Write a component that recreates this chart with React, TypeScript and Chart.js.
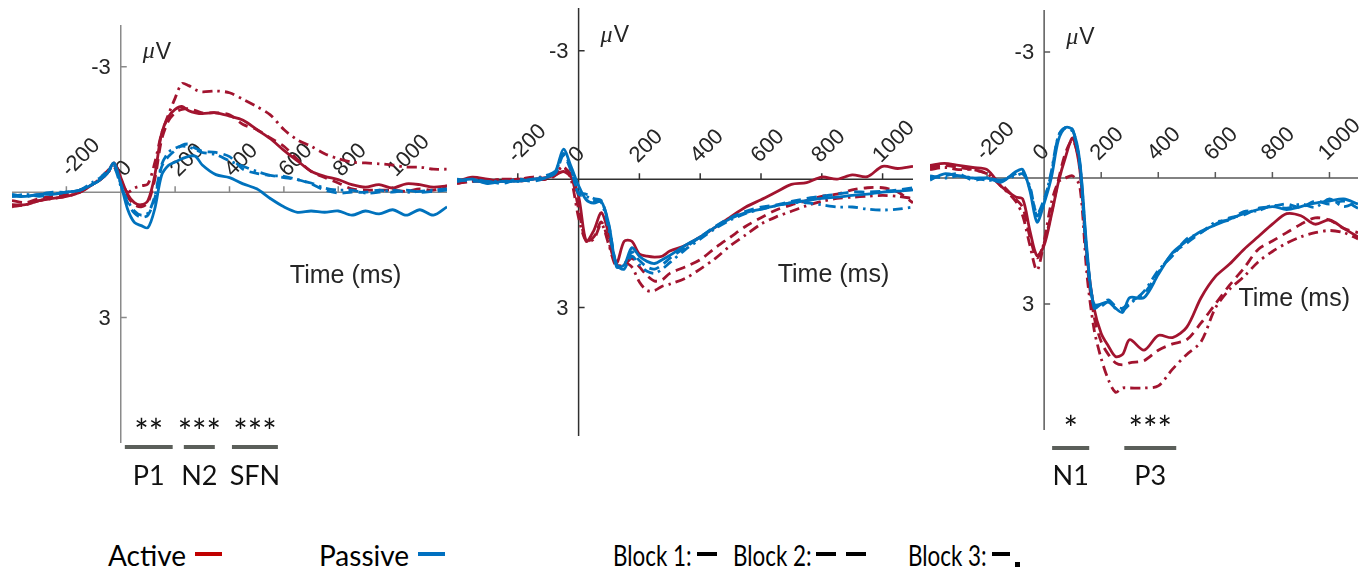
import React, { useEffect, useRef } from 'react';
import { Chart, registerables } from 'chart.js';

Chart.register(...registerables);

// ---------- data ----------
const RED = '#A2142F';
const BLUE = '#0072BD';
const TEXT = '#262626';

const xTickValues = [-200, 0, 200, 400, 600, 800, 1000];
const yTickValues = [-3, 3];

const p1Times = [-400, -350, -300, -250, -200, -150, -100, -75, -50, -25, 0, 25, 50, 75, 100, 125, 150, 175, 200, 225, 250, 275, 300, 350, 400, 450, 500, 550, 600, 650, 700, 750, 800, 850, 900, 950, 1000, 1050, 1100, 1150, 1200];
const p1ActiveB1 = [0.3, 0.3, 0.2, 0.15, 0.1, 0.0, -0.2, -0.3, -0.45, -0.7, -0.35, 0.05, 0.25, 0.3, 0.2, -0.4, -1.4, -1.8, -1.98, -2.05, -1.95, -1.9, -1.88, -1.9, -1.82, -1.72, -1.5, -1.28, -1.0, -0.75, -0.5, -0.38, -0.3, -0.18, -0.12, -0.18, -0.1, -0.2, -0.18, -0.12, -0.15];
const p1ActiveB2 = [0.2, 0.25, 0.15, 0.1, 0.05, -0.05, -0.2, -0.35, -0.5, -0.65, -0.3, 0.1, 0.3, 0.35, 0.25, -0.3, -1.25, -1.7, -1.9, -1.98, -2.0, -1.95, -1.9, -1.9, -1.85, -1.62, -1.5, -1.3, -1.1, -0.78, -0.5, -0.35, -0.22, -0.08, -0.05, -0.05, -0.05, -0.02, -0.08, -0.05, -0.15];
const p1ActiveB3 = [0.35, 0.3, 0.2, 0.15, 0.1, 0.0, -0.2, -0.3, -0.45, -0.6, -0.3, 0.0, -0.1, -0.15, -0.2, -0.7, -1.4, -1.85, -2.25, -2.6, -2.55, -2.45, -2.4, -2.42, -2.38, -2.22, -2.05, -1.85, -1.5, -1.25, -1.1, -0.92, -0.8, -0.72, -0.7, -0.68, -0.65, -0.6, -0.6, -0.55, -0.55];
const p1PassiveB1 = [0.1, 0.1, 0.05, 0.05, 0.0, -0.05, -0.2, -0.3, -0.45, -0.7, -0.2, 0.4, 0.72, 0.8, 0.85, 0.4, -0.4, -0.64, -0.72, -0.8, -0.86, -0.86, -0.65, -0.42, -0.35, -0.2, -0.08, 0.15, 0.35, 0.48, 0.45, 0.48, 0.45, 0.55, 0.45, 0.52, 0.42, 0.55, 0.42, 0.55, 0.35];
const p1PassiveB2 = [0.05, 0.1, 0.05, 0.0, 0.0, -0.05, -0.2, -0.3, -0.45, -0.65, -0.2, 0.25, 0.5, 0.6, 0.55, 0.15, -0.6, -0.85, -1.0, -1.12, -1.15, -1.05, -0.98, -0.95, -0.85, -0.55, -0.45, -0.4, -0.35, -0.3, -0.2, -0.05, 0.02, 0.0, 0.0, -0.05, 0.0, -0.05, 0.0, -0.02, -0.05];
const p1PassiveB3 = [0.1, 0.05, 0.1, 0.05, 0.0, -0.05, -0.25, -0.35, -0.5, -0.6, -0.15, 0.2, 0.45, 0.55, 0.5, 0.1, -0.65, -0.95, -1.05, -1.1, -1.08, -1.02, -0.95, -0.9, -0.75, -0.62, -0.5, -0.4, -0.38, -0.3, -0.22, -0.1, -0.05, -0.05, 0.02, 0.0, -0.05, 0.0, -0.02, -0.05, -0.08];

const p2Times = [-400, -350, -300, -250, -200, -150, -100, -75, -50, -25, 0, 25, 50, 75, 100, 125, 150, 175, 200, 225, 250, 275, 300, 350, 400, 450, 500, 550, 600, 650, 700, 750, 800, 850, 900, 950, 1000, 1050, 1100];
const p2ActiveB1 = [0.05, -0.05, 0.0, 0.05, 0.0, 0.0, -0.05, -0.1, -0.18, -0.05, 0.4, 1.45, 1.2, 0.78, 1.3, 1.95, 1.45, 1.45, 1.75, 1.8, 1.82, 1.8, 1.68, 1.55, 1.35, 1.12, 0.88, 0.65, 0.48, 0.3, 0.12, 0.08, -0.05, 0.0, -0.1, -0.06, -0.3, -0.25, -0.3];
const p2ActiveB2 = [0.1, 0.05, 0.05, 0.0, 0.05, 0.0, 0.0, -0.1, -0.25, -0.1, 0.7, 1.45, 1.35, 1.0, 1.5, 2.0, 2.0, 1.85, 2.05, 2.25, 2.38, 2.35, 2.2, 2.05, 1.88, 1.6, 1.35, 1.1, 0.9, 0.72, 0.6, 0.5, 0.4, 0.35, 0.25, 0.2, 0.2, 0.3, 0.55];
const p2ActiveB3 = [0.1, 0.05, 0.05, 0.0, 0.0, -0.05, -0.05, -0.15, -0.3, 0.0, 0.9, 1.45, 1.4, 1.05, 1.55, 2.05, 1.95, 2.05, 2.4, 2.6, 2.6, 2.5, 2.45, 2.32, 2.1, 1.85, 1.55, 1.3, 1.05, 0.88, 0.75, 0.62, 0.52, 0.45, 0.42, 0.4, 0.38, 0.4, 0.45];
const p2PassiveB1 = [0.05, 0.0, 0.1, 0.05, 0.05, 0.0, -0.05, -0.2, -0.7, -0.3, 0.15, 0.48, 0.56, 0.52, 1.07, 2.05, 2.0, 1.6, 1.8, 1.92, 1.97, 1.88, 1.78, 1.55, 1.35, 1.12, 0.92, 0.78, 0.7, 0.62, 0.55, 0.5, 0.45, 0.42, 0.38, 0.35, 0.3, 0.28, 0.25];
const p2PassiveB2 = [0.0, 0.05, 0.05, 0.1, 0.0, 0.05, -0.05, -0.15, -0.55, -0.2, 0.3, 0.35, 0.45, 0.5, 1.1, 2.0, 2.1, 1.7, 1.9, 2.05, 2.1, 2.0, 1.85, 1.6, 1.35, 1.1, 0.9, 0.75, 0.65, 0.6, 0.52, 0.45, 0.4, 0.35, 0.3, 0.3, 0.28, 0.25, 0.2];
const p2PassiveB3 = [0.05, 0.0, 0.05, 0.05, 0.05, 0.0, -0.1, -0.2, -0.6, -0.25, 0.35, 0.4, 0.5, 0.55, 1.2, 2.0, 2.05, 1.8, 2.0, 2.15, 2.2, 2.1, 1.95, 1.65, 1.4, 1.15, 0.95, 0.8, 0.7, 0.62, 0.55, 0.55, 0.6, 0.65, 0.65, 0.7, 0.72, 0.7, 0.65];

const p3Times = [-400, -350, -300, -250, -200, -150, -100, -75, -50, -25, 0, 25, 50, 75, 100, 125, 150, 175, 200, 225, 250, 275, 300, 350, 400, 450, 500, 550, 600, 650, 700, 750, 800, 850, 900, 950, 1000, 1050, 1100];
const p3ActiveB1 = [-0.3, -0.35, -0.3, -0.25, -0.2, 0.2, 0.45, 0.5, 1.25, 1.85, 1.6, 0.9, 0.1, -0.5, -0.95, -0.2, 1.85, 3.1, 3.7, 4.0, 4.25, 4.2, 3.85, 4.1, 3.75, 3.8, 3.55, 2.85, 2.35, 2.05, 1.7, 1.4, 1.1, 0.85, 0.9, 1.1, 1.0, 1.2, 1.4];
const p3ActiveB2 = [-0.25, -0.3, -0.25, -0.2, -0.1, 0.15, 0.5, 0.7, 1.4, 1.9, 1.55, 0.85, 0.05, -0.6, -0.9, -0.3, 2.0, 3.3, 3.9, 4.2, 4.4, 4.45, 4.4, 4.35, 4.1, 3.95, 3.85, 3.45, 3.0, 2.55, 2.15, 1.7, 1.5, 1.3, 1.1, 0.95, 1.0, 1.2, 1.3];
const p3ActiveB3 = [-0.2, -0.25, -0.2, -0.2, -0.1, 0.2, 0.55, 0.9, 1.6, 2.2, 1.5, 0.6, 0.1, 0.0, -0.05, 0.2, 2.3, 3.6, 4.3, 4.8, 5.1, 5.0, 5.0, 5.0, 4.95, 4.55, 4.2, 3.9, 3.1, 2.65, 2.35, 2.0, 1.75, 1.55, 1.4, 1.3, 1.25, 1.3, 1.45];
const p3PassiveB1 = [0.05, -0.1, -0.05, 0.0, 0.0, 0.1, -0.15, -0.2, 0.3, 1.05, 0.6, 0.0, -0.9, -1.2, -1.15, -0.4, 1.7, 3.1, 3.0, 2.95, 3.1, 3.2, 2.85, 2.85, 2.3, 1.78, 1.5, 1.27, 1.12, 0.98, 0.85, 0.75, 0.68, 0.75, 0.68, 0.6, 0.55, 0.5, 0.62];
const p3PassiveB2 = [0.0, -0.05, -0.1, 0.05, 0.0, 0.05, -0.1, -0.15, 0.25, 0.85, 0.5, -0.1, -1.0, -1.2, -1.15, -0.3, 1.9, 3.0, 3.0, 2.9, 3.05, 3.1, 2.95, 2.75, 2.25, 1.8, 1.55, 1.3, 1.1, 0.95, 0.88, 0.72, 0.68, 0.62, 0.7, 0.55, 0.62, 0.55, 0.72];
const p3PassiveB3 = [-0.05, 0.0, -0.05, 0.0, 0.05, 0.05, -0.05, -0.1, 0.2, 0.9, 0.55, -0.15, -1.0, -1.2, -1.1, -0.35, 1.8, 3.05, 3.05, 2.95, 3.1, 3.15, 3.0, 2.7, 2.2, 1.85, 1.45, 1.3, 1.05, 1.0, 0.8, 0.78, 0.65, 0.72, 0.62, 0.7, 0.5, 0.68, 0.55];

// significance windows (ms)
const p1Windows = [
  { name: 'P1', stars: '**', from: 15, to: 191 },
  { name: 'N2', stars: '***', from: 232, to: 346 },
  { name: 'SFN', stars: '***', from: 409, to: 578 },
];
const p3Windows = [
  { name: 'N1', stars: '*', from: 28, to: 158 },
  { name: 'P3', stars: '***', from: 281, to: 463 },
];

// ---------- styles ----------
const DASH_SOLID: number[] = [];
const DASH_DASHED = [10, 6];
const DASH_DOTDASH = [10, 5, 2.5, 5];

type Series = { values: number[]; color: string; dash: number[] };
type Win = { name: string; stars: string; from: number; to: number };
type PanelCfg = {
  times: number[];
  series: Series[];
  xMin: number;
  xMax: number;
  box: { left: number; top: number; width: number; height: number };
  pad: { left: number; right: number; top: number; bottom: number };
  axisColor: string;
  labelOffset: [number, number];
  timeLabel: { t: number; v: number };
  windows: Win[];
  starY: number;
  barY: number;
  nameY: number;
};

function mkSeries(a: number[][]): Series[] {
  // passive first so blue is drawn on top
  return [
    { values: a[3], color: BLUE, dash: DASH_SOLID },
    { values: a[4], color: BLUE, dash: DASH_DASHED },
    { values: a[5], color: BLUE, dash: DASH_DOTDASH },
    { values: a[0], color: RED, dash: DASH_SOLID },
    { values: a[1], color: RED, dash: DASH_DASHED },
    { values: a[2], color: RED, dash: DASH_DOTDASH },
  ];
}

const panels: PanelCfg[] = [
  {
    times: p1Times,
    series: mkSeries([p1ActiveB1, p1ActiveB2, p1ActiveB3, p1PassiveB1, p1PassiveB2, p1PassiveB3]),
    xMin: -400, xMax: 1200,
    box: { left: 0, top: 0, width: 456, height: 500 },
    pad: { left: 12, right: 9, top: 25, bottom: 57 },
    axisColor: '#8a8a8a',
    labelOffset: [-1, -19],
    timeLabel: { t: 622, v: 2.18 },
    windows: p1Windows,
    starY: 423, barY: 447, nameY: 475,
  },
  {
    times: p2Times,
    series: mkSeries([p2ActiveB1, p2ActiveB2, p2ActiveB3, p2PassiveB1, p2PassiveB2, p2PassiveB3]),
    xMin: -400, xMax: 1100,
    box: { left: 452, top: 0, width: 466, height: 500 },
    pad: { left: 5, right: 5, top: 8, bottom: 64 },
    axisColor: '#303030',
    labelOffset: [-6, -20],
    timeLabel: { t: 655, v: 2.41 },
    windows: [],
    starY: 0, barY: 0, nameY: 0,
  },
  {
    times: p3Times,
    series: mkSeries([p3ActiveB1, p3ActiveB2, p3ActiveB3, p3PassiveB1, p3PassiveB2, p3PassiveB3]),
    xMin: -400, xMax: 1100,
    box: { left: 918, top: 0, width: 452, height: 500 },
    pad: { left: 12, right: 12, top: 10, bottom: 70 },
    axisColor: '#5a5a5a',
    labelOffset: [-7, -21],
    timeLabel: { t: 681, v: 3.05 },
    windows: p3Windows,
    starY: 420, barY: 448, nameY: 475,
  },
];

function centerText(ctx: CanvasRenderingContext2D, text: string, cx: number, cy: number) {
  ctx.textAlign = 'center';
  ctx.textBaseline = 'alphabetic';
  const m = ctx.measureText(text);
  const asc = m.actualBoundingBoxAscent;
  const desc = m.actualBoundingBoxDescent;
  ctx.fillText(text, cx, cy + (asc - desc) / 2);
}

function makePlugin(cfg: PanelCfg) {
  return {
    id: 'erpAxes',
    beforeDatasetsDraw(chart: any) {
      const { ctx, chartArea: a } = chart;
      const x = chart.scales.x;
      const y = chart.scales.y;
      const x0 = x.getPixelForValue(0);
      const y0 = y.getPixelForValue(0);
      ctx.save();
      ctx.strokeStyle = cfg.axisColor;
      ctx.lineWidth = 1.5;
      ctx.beginPath();
      ctx.moveTo(a.left, y0);
      ctx.lineTo(a.right, y0);
      ctx.moveTo(x0, a.top);
      ctx.lineTo(x0, a.bottom);
      for (const t of xTickValues) {
        if (t === 0) continue;
        const px = x.getPixelForValue(t);
        ctx.moveTo(px, y0);
        ctx.lineTo(px, y0 - 6);
      }
      for (const v of yTickValues) {
        const py = y.getPixelForValue(v);
        ctx.moveTo(x0, py);
        ctx.lineTo(x0 + 6, py);
      }
      ctx.stroke();

      ctx.fillStyle = TEXT;
      ctx.font = '22px "Liberation Sans", Arial, sans-serif';
      // x tick labels, rotated
      for (const t of xTickValues) {
        const px = x.getPixelForValue(t);
        ctx.save();
        ctx.translate(px + cfg.labelOffset[0], y0 + cfg.labelOffset[1]);
        ctx.rotate(-Math.PI / 4);
        ctx.textAlign = 'left';
        ctx.textBaseline = 'middle';
        ctx.fillText(String(t), 0, 0);
        ctx.restore();
      }
      // y tick labels
      ctx.textAlign = 'right';
      ctx.textBaseline = 'middle';
      for (const v of yTickValues) {
        ctx.fillText(String(v), x0 - 10, y.getPixelForValue(v) + 1);
      }
      // unit label
      const uy = y.getPixelForValue(-3.35);
      ctx.textAlign = 'left';
      ctx.font = 'italic 24px "Liberation Serif", serif';
      ctx.fillText('\u03BC', x0 + 22, uy);
      const mw = ctx.measureText('\u03BC').width;
      ctx.font = '23px "Liberation Sans", Arial, sans-serif';
      ctx.fillText('V', x0 + 22 + mw + 1, uy);
      // axis title
      ctx.font = '25px "Liberation Sans", Arial, sans-serif';
      ctx.textBaseline = 'alphabetic';
      ctx.fillText('Time (ms)', x.getPixelForValue(cfg.timeLabel.t), y.getPixelForValue(cfg.timeLabel.v));
      ctx.restore();
    },
    afterDraw(chart: any) {
      if (!cfg.windows.length) return;
      const { ctx } = chart;
      const x = chart.scales.x;
      ctx.save();
      for (const w of cfg.windows) {
        const l = x.getPixelForValue(w.from);
        const r = x.getPixelForValue(w.to);
        const c = (l + r) / 2;
        ctx.strokeStyle = '#5b5f5a';
        ctx.lineWidth = 4;
        ctx.beginPath();
        ctx.moveTo(l, cfg.barY);
        ctx.lineTo(r, cfg.barY);
        ctx.stroke();
        ctx.fillStyle = '#111';
        ctx.font = '34px Lato, "Open Sans", sans-serif';
        centerText(ctx, w.stars, c, cfg.starY);
        ctx.font = '27px Lato, "Open Sans", sans-serif';
        centerText(ctx, w.name, c, cfg.nameY);
      }
      ctx.restore();
    },
  };
}

function Panel({ cfg }: { cfg: PanelCfg }) {
  const ref = useRef<HTMLCanvasElement | null>(null);
  useEffect(() => {
    if (!ref.current) return;
    const chart = new Chart(ref.current, {
      type: 'line',
      data: {
        datasets: cfg.series.map((s) => ({
          data: cfg.times.map((t, i) => ({ x: t, y: s.values[i] })),
          borderColor: s.color,
          borderDash: s.dash,
          borderWidth: 2.8,
          pointRadius: 0,
          tension: 0.3,
          fill: false,
        })),
      },
      options: {
        animation: false,
        responsive: false,
        maintainAspectRatio: false,
        devicePixelRatio: 1,
        layout: { padding: cfg.pad },
        scales: {
          x: { type: 'linear', min: cfg.xMin, max: cfg.xMax, display: false },
          y: { type: 'linear', min: -4, max: 6, reverse: true, display: false },
        },
        plugins: { legend: { display: false }, tooltip: { enabled: false } },
      },
      plugins: [makePlugin(cfg)],
    } as any);
    return () => chart.destroy();
  }, [cfg]);
  return (
    <canvas
      ref={ref}
      width={cfg.box.width}
      height={cfg.box.height}
      style={{ position: 'absolute', left: cfg.box.left, top: cfg.box.top, width: cfg.box.width, height: cfg.box.height }}
    />
  );
}

const legendFont: React.CSSProperties = {
  position: 'absolute',
  font: '28px Lato, "Open Sans", sans-serif',
  lineHeight: '34px',
  color: '#000',
  whiteSpace: 'nowrap',
};

const blockFont: React.CSSProperties = {
  ...legendFont,
  transform: 'scaleX(0.8)',
  transformOrigin: 'left center',
};

function bar(left: number, top: number, width: number, height: number, color: string): React.CSSProperties {
  return { position: 'absolute', left, top, width, height, background: color };
}

export default function App() {
  return (
    <div style={{ position: 'absolute', left: 0, top: 0, width: 1370, height: 576, background: '#fff', overflow: 'hidden' }}>
      {panels.map((p, i) => (
        <Panel key={i} cfg={p} />
      ))}
      <div style={{ ...legendFont, left: 108, top: 538 }}>Active</div>
      <div style={bar(195, 552, 27, 4, '#C00000')} />
      <div style={{ ...legendFont, left: 319, top: 538 }}>Passive</div>
      <div style={bar(418, 552, 27, 4, '#0070C0')} />
      <div style={{ ...blockFont, left: 613, top: 538 }}>Block 1:</div>
      <div style={bar(697, 552, 20, 4, '#000')} />
      <div style={{ ...blockFont, left: 733, top: 538 }}>Block 2:</div>
      <div style={bar(816, 552, 20, 4, '#000')} />
      <div style={bar(846, 552, 20, 4, '#000')} />
      <div style={{ ...blockFont, left: 908, top: 538 }}>Block 3:</div>
      <div style={bar(992, 552, 18, 4, '#000')} />
      <div style={bar(1015, 562, 5, 5, '#000')} />
    </div>
  );
}
